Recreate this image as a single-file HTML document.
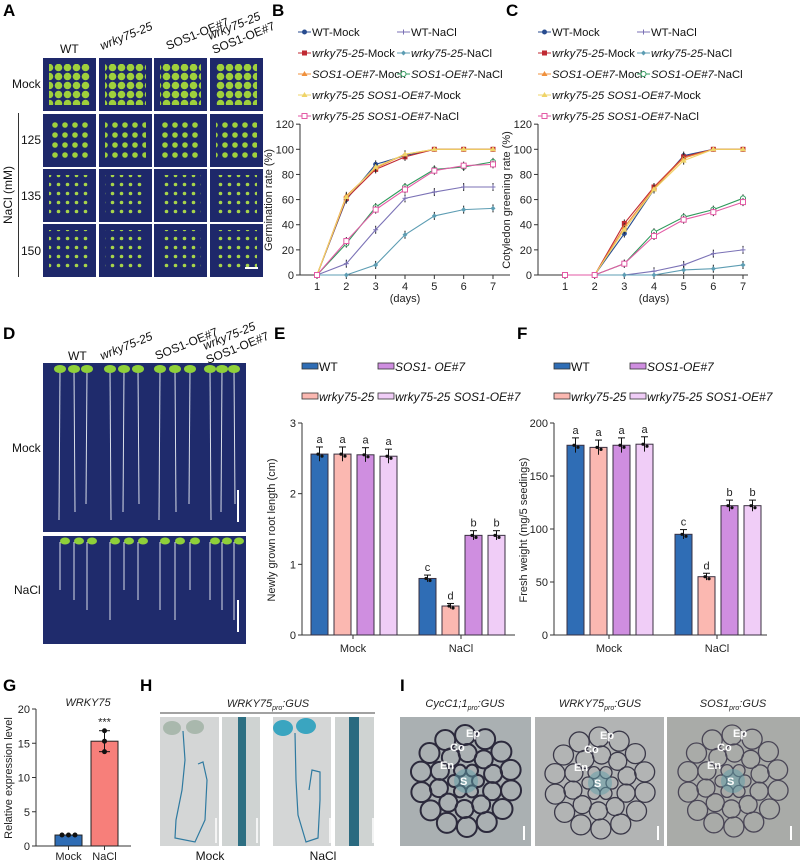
<!DOCTYPE html>
<html><head><meta charset="utf-8">
<style>
html,body{margin:0;padding:0;background:#fff;}
svg{display:block;font-family:"Liberation Sans",sans-serif;}
.pl{font-weight:bold;font-size:17px;}
.t{font-size:11px;fill:#222;}
.lg{font-size:12px;fill:#111;}
.lg2{font-size:11.3px;fill:#111;}
</style></head>
<body>
<svg id="fig" width="800" height="863" viewBox="0 0 800 863">
<defs>
<pattern id="pA1" width="9" height="9" patternUnits="userSpaceOnUse"><circle cx="4.5" cy="4.5" r="3.8" fill="#9fd03c"/></pattern>
<pattern id="pA2" width="10" height="10" patternUnits="userSpaceOnUse"><circle cx="5" cy="5" r="2.8" fill="#9fd03c"/></pattern>
<pattern id="pA3" width="9" height="9" patternUnits="userSpaceOnUse"><circle cx="4.5" cy="4.5" r="1.8" fill="#a7d54a"/></pattern>
</defs>
<text class="pl" x="3" y="16">A</text>
<text class="pl" x="272" y="16">B</text>
<text class="pl" x="506" y="16">C</text>
<text class="pl" x="3" y="339">D</text>
<text class="pl" x="274" y="339">E</text>
<text class="pl" x="517" y="339">F</text>
<text class="pl" x="3" y="691">G</text>
<text class="pl" x="140" y="691">H</text>
<text class="pl" x="400" y="691">I</text>

<g id="panelA">
<text class="lg" x="60" y="53">WT</text>
<text class="lg" x="102" y="50" transform="rotate(-22 102 50)" font-style="italic">wrky75-25</text>
<text class="lg" x="168" y="50" transform="rotate(-22 168 50)">SOS1-OE#7</text>
<text class="lg" x="210" y="40" transform="rotate(-22 210 40)" font-style="italic">wrky75-25</text>
<text class="lg" x="214" y="54" transform="rotate(-22 214 54)">SOS1-OE#7</text>
<text class="lg" x="12" y="88">Mock</text>
<text class="lg" x="21" y="144">125</text>
<text class="lg" x="21" y="200">135</text>
<text class="lg" x="21" y="255">150</text>
<text class="lg" x="12" y="195" transform="rotate(-90 12 195)" text-anchor="middle">NaCl (mM)</text>
<line x1="18.5" y1="113" x2="18.5" y2="277" stroke="#333"/>
</g>

<g id="panelD">
<text class="lg" x="68" y="360">WT</text>
<text class="lg" x="102" y="360" transform="rotate(-22 102 360)" font-style="italic">wrky75-25</text>
<text class="lg" x="157" y="360" transform="rotate(-22 157 360)">SOS1-OE#7</text>
<text class="lg" x="205" y="350" transform="rotate(-22 205 350)" font-style="italic">wrky75-25</text>
<text class="lg" x="208" y="364" transform="rotate(-22 208 364)">SOS1-OE#7</text>
<text class="lg" x="12" y="452">Mock</text>
<text class="lg" x="14" y="594">NaCl</text>
<rect x="43" y="363" width="203" height="169" fill="#1f2b6c"/>
<rect x="43" y="536" width="203" height="108" fill="#1f2b6c"/>
</g>

<g id="panelH">
<text class="t" x="268" y="707" text-anchor="middle" font-style="italic" font-size="12">WRKY75<tspan font-size="7" dy="3">pro</tspan><tspan dy="-3">:GUS</tspan></text>
<line x1="160" y1="713" x2="375" y2="713" stroke="#444"/>
<rect x="160" y="717" width="59" height="129" fill="#d4d6d6"/>
<rect x="222" y="717" width="38" height="129" fill="#cfd3d2"/>
<rect x="273" y="717" width="58" height="129" fill="#d4d6d6"/>
<rect x="335" y="717" width="39" height="129" fill="#cfd3d2"/>
<ellipse cx="172" cy="728" rx="9" ry="7" fill="#a9b8ad"/><ellipse cx="195" cy="727" rx="9" ry="7" fill="#a9b8ad"/>
<path d="M183 731 L185 760 L182 790 L176 820 L175 838 L195 842 L205 820 L207 780 L203 762 L198 764" fill="none" stroke="#2f7aa0" stroke-width="1.2"/>
<rect x="238" y="717" width="8" height="129" fill="#2d6f82"/>
<ellipse cx="283" cy="728" rx="10" ry="8" fill="#3aa5c0"/><ellipse cx="306" cy="726" rx="10" ry="8" fill="#3aa5c0"/>
<path d="M295 733 L296 780 L298 815 L306 842 L318 838 L320 800 L320 772 L312 770 L309 790" fill="none" stroke="#2f7aa0" stroke-width="1.2"/>
<rect x="349" y="717" width="10" height="129" fill="#2a6a80"/>
<line x1="216" y1="818" x2="216" y2="843" stroke="#fff" stroke-width="1.5"/><line x1="257" y1="818" x2="257" y2="843" stroke="#fff" stroke-width="1.5"/>
<line x1="330" y1="818" x2="330" y2="843" stroke="#fff" stroke-width="1.5"/><line x1="373" y1="818" x2="373" y2="843" stroke="#fff" stroke-width="1.5"/>
<text class="lg" x="210" y="860" text-anchor="middle">Mock</text>
<text class="lg" x="323" y="860" text-anchor="middle">NaCl</text>
</g>

<g id="panelI">
<text class="t" x="465" y="707" text-anchor="middle" font-style="italic" font-size="12">CycC1;1<tspan font-size="7" dy="3">pro</tspan><tspan dy="-3">:GUS</tspan></text>
<text class="t" x="600" y="707" text-anchor="middle" font-style="italic" font-size="12">WRKY75<tspan font-size="7" dy="3">pro</tspan><tspan dy="-3">:GUS</tspan></text>
<text class="t" x="733" y="707" text-anchor="middle" font-style="italic" font-size="12">SOS1<tspan font-size="7" dy="3">pro</tspan><tspan dy="-3">:GUS</tspan></text>
<rect x="400" y="717" width="131" height="129" fill="#aab0b2"/>
<rect x="535" y="717" width="129" height="129" fill="#b2b4b4"/>
<rect x="667" y="717" width="133" height="129" fill="#a9aba8"/>
</g>

<g id="panelG"></g>
<g id="chartB"></g>
<g id="chartC"></g>
<g id="chartE"></g>
<g id="chartF"></g>
</svg>
<script>
// ---------- data ----------
const days = [1,2,3,4,5,6,7];
const seriesNames = ["WT-Mock","WT-NaCl","wrky75-25-Mock","wrky75-25-NaCl","SOS1-OE#7-Mock","SOS1-OE#7-NaCl","wrky75-25 SOS1-OE#7-Mock","wrky75-25 SOS1-OE#7-NaCl"];
const germWTMock = [0,60,88,95,100,100,100];
const germWTNaCl = [0,9,36,61,66,70,70];
const germWrkyMock = [0,61,84,94,100,100,100];
const germWrkyNaCl = [0,0,8,32,47,52,53];
const germSosMock = [0,63,85,96,100,100,100];
const germSosNaCl = [0,25,54,70,84,86,90];
const germDblMock = [0,62,86,96,100,100,100];
const germDblNaCl = [0,27,52,68,83,87,88];
const greenWTMock = [0,0,33,68,95,100,100];
const greenWTNaCl = [0,0,0,3,8,17,20];
const greenWrkyMock = [0,0,41,70,94,100,100];
const greenWrkyNaCl = [0,0,0,0,4,5,8];
const greenSosMock = [0,0,38,69,93,100,100];
const greenSosNaCl = [0,0,9,34,46,52,61];
const greenDblMock = [0,0,36,68,91,100,100];
const greenDblNaCl = [0,0,9,31,44,50,58];
const lineTicks = [0,20,40,60,80,100,120];
const barGroups = ["Mock","NaCl"];
const genotypes = ["WT","wrky75-25","SOS1-OE#7","wrky75-25 SOS1-OE#7"];
const rootMock = [2.56,2.56,2.55,2.53];
const rootNaCl = [0.80,0.41,1.41,1.41];
const rootLetters = [["a","a","a","a"],["c","d","b","b"]];
const rootTicks = [0,1,2,3];
const fwMock = [179,177,179,180];
const fwNaCl = [95,55,122,122];
const fwLetters = [["a","a","a","a"],["c","d","b","b"]];
const fwTicks = [0,50,100,150,200];
const gCats = ["Mock","NaCl"];
const gVals = [1.6,15.3];
const gTicks = [0,5,10,15,20];

const NS="http://www.w3.org/2000/svg";
function el(parent,tag,attrs,text){const e=document.createElementNS(NS,tag);for(const k in attrs)e.setAttribute(k,attrs[k]);if(text!==undefined)e.textContent=text;parent.appendChild(e);return e;}

(function(){
  const g=document.getElementById('panelA');
  const cols=[43,99,154,210], rows=[58,114,169,224], pats=['pA1','pA2','pA3','pA3'];
  rows.forEach((y,ri)=>cols.forEach((x,ci)=>{
    const r=el(g,'rect',{x:x,y:y,width:53,height:53,fill:'#1e286a'});
    
    
    el(g,'rect',{x:x+6,y:y+6,width:41,height:41,fill:'url(#'+pats[ri]+')'});
  }));
  el(g,'line',{x1:245,y1:268,x2:258,y2:268,stroke:'#fff','stroke-width':2});
})();
(function(){
  const g=document.getElementById('panelD');
  const xs=[60,74,87,110,124,138,160,175,190,210,222,234];
  xs.forEach((x,i)=>{
    el(g,'line',{x1:x,y1:370,x2:x+(i%2?1:-1),y2:520-(i%3)*8,stroke:'#d8dde8','stroke-width':1});
    el(g,'ellipse',{cx:x,cy:369,rx:6,ry:4,fill:'#8fd03a'});
    el(g,'line',{x1:x,y1:542,x2:x,y2:590+(i%4)*10,stroke:'#d8dde8','stroke-width':1});
    el(g,'ellipse',{cx:x+5,cy:541,rx:5,ry:3.5,fill:'#8fd03a'});
  });
  el(g,'line',{x1:238,y1:490,x2:238,y2:522,stroke:'#fff','stroke-width':2});
  el(g,'line',{x1:238,y1:600,x2:238,y2:632,stroke:'#fff','stroke-width':2});
})();
(function(){
  const g=document.getElementById('panelI');
  [[466,781,'#2c2a3c'],[600,783,'#3a3848'],[733,781,'#4a4656']].forEach((c,k)=>{
    for(let ring=0;ring<3;ring++){
      const n=[6,10,14][ring], R=[12,28,46][ring], r=[6,9,10][ring];
      for(let i=0;i<n;i++){const a=i/n*Math.PI*2+ring;
        el(g,'circle',{cx:c[0]+R*Math.cos(a),cy:c[1]+R*Math.sin(a),r:r,fill:'none',stroke:c[2],'stroke-width':k==0?2:1.3});}
    }
    el(g,'circle',{cx:c[0],cy:c[1],r:12,fill:'#5f9ea8',opacity:0.5});
    [['S',-6,4],['En',-26,-12],['Co',-16,-30],['Ep',0,-44]].forEach(l=>el(g,'text',{x:c[0]+l[1],y:c[1]+l[2],fill:'#fff','font-size':11,'font-weight':'bold'},l[0]));
    el(g,'line',{x1:c[0]+58,y1:826,x2:c[0]+58,y2:840,stroke:'#fff','stroke-width':2});
  });
})();

const colors=["#284b8f","#7b72b6","#c02a33","#5d9db3","#f0903c","#2f9a5c","#efd468","#e35aa5"];
const markers=["circle","plus","square","diamond","tri","ocircle","tri","osquare"];
function lineChart(id,sets,x0,x1,xAxisX,yTitle,legX){
  const g=document.getElementById(id);
  const yS=v=>275-v*1.257;
  const xS=d=>x0+(d-1)*(x1-x0)/6;
  el(g,'line',{x1:xAxisX,y1:275,x2:xAxisX+210,y2:275,stroke:'#333'});
  el(g,'line',{x1:xAxisX,y1:124,x2:xAxisX,y2:275,stroke:'#333'});
  lineTicks.forEach(t=>{el(g,'line',{x1:xAxisX-4,y1:yS(t),x2:xAxisX,y2:yS(t),stroke:'#333'});
    const tx=el(g,'text',{class:'t',x:xAxisX-6,y:yS(t)+4,'text-anchor':'end'},t);
    
    });
  days.forEach(d=>{el(g,'line',{x1:xS(d),y1:275,x2:xS(d),y2:279,stroke:'#333'});
    const tx=el(g,'text',{class:'t',x:xS(d),y:290,'text-anchor':'middle'},d);
    
    });
  const xt=el(g,'text',{class:'t',x:(x0+x1)/2,y:302,'text-anchor':'middle','font-size':12},'(days)');
  
  
  const yt=el(g,'text',{class:'t','font-size':12,x:xAxisX-28,y:200,'text-anchor':'middle',transform:'rotate(-90 '+(xAxisX-28)+' 200)'},yTitle);
  
  
  sets.forEach((vals,si)=>{
    const pts=vals.map((v,i)=>xS(days[i])+','+yS(v)).join(' ');
    const pl=el(g,'polyline',{points:pts,fill:'none',stroke:colors[si],'stroke-width':1.1});
    
    
    vals.forEach((v,i)=>{
      if(v>0&&v<100){el(g,'line',{x1:xS(days[i]),y1:yS(v)-4,x2:xS(days[i]),y2:yS(v)+4,stroke:'#222','stroke-width':1});}
      drawMarker(g,markers[si],xS(days[i]),yS(v),colors[si]);
    });
  });
  const rows=[[0,1],[2,3],[4,5],[6],[7]];
  rows.forEach((r,ri)=>r.forEach((si,ci)=>{
    const lx=legX+ci*99, ly=32+ri*21;
    el(g,'line',{x1:lx,y1:ly,x2:lx+13,y2:ly,stroke:colors[si]});
    drawMarker(g,markers[si],lx+6.5,ly,colors[si]);
    const n=seriesNames[si];
    const t=el(g,'text',{class:'lg2',x:lx+14,y:ly+4});
    
    
    const idx=n.lastIndexOf('-');
    el(t,'tspan',{'font-style':si<2?'normal':'italic'},si<2?n:n.slice(0,idx));
    if(si>=2) el(t,'tspan',{},n.slice(idx));
  }));
}
function drawMarker(g,m,x,y,c){
  if(m==='circle')el(g,'circle',{cx:x,cy:y,r:2.5,fill:c});
  else if(m==='ocircle')el(g,'circle',{cx:x,cy:y,r:2.5,fill:'#fff',stroke:c});
  else if(m==='square')el(g,'rect',{x:x-2.5,y:y-2.5,width:5,height:5,fill:c});
  else if(m==='osquare')el(g,'rect',{x:x-2.5,y:y-2.5,width:5,height:5,fill:'#fff',stroke:c});
  else if(m==='tri')el(g,'path',{d:`M${x} ${y-3}L${x+3} ${y+2}L${x-3} ${y+2}Z`,fill:c});
  else if(m==='diamond')el(g,'path',{d:`M${x} ${y-2.5}L${x+2.5} ${y}L${x} ${y+2.5}L${x-2.5} ${y}Z`,fill:c});
  else {el(g,'line',{x1:x-2.5,y1:y,x2:x+2.5,y2:y,stroke:c});el(g,'line',{x1:x,y1:y-2.5,x2:x,y2:y+2.5,stroke:c});}
}
lineChart('chartB',[germWTMock,germWTNaCl,germWrkyMock,germWrkyNaCl,germSosMock,germSosNaCl,germDblMock,germDblNaCl],317,493,300,'Germination rate (%)',298);
lineChart('chartC',[greenWTMock,greenWTNaCl,greenWrkyMock,greenWrkyNaCl,greenSosMock,greenSosNaCl,greenDblMock,greenDblNaCl],565,743,538,'Cotyledon greening rate (%)',538);

const barColors=["#2f6db5","#fbb8b1","#cf8ee0","#f0cdf7"];
function barChart(id,mock,nacl,letters,ticks,maxV,axX,startX,yTitle,sosLabel){
  const g=document.getElementById(id);
  const y0=635,h=212;
  const yS=v=>y0-v/maxV*h;
  el(g,'line',{x1:axX,y1:y0,x2:axX+213,y2:y0,stroke:'#333'});
  el(g,'line',{x1:axX,y1:yS(maxV),x2:axX,y2:y0,stroke:'#333'});
  ticks.forEach(t=>{el(g,'line',{x1:axX-4,y1:yS(t),x2:axX,y2:yS(t),stroke:'#333'});
    const tx=el(g,'text',{class:'t',x:axX-6,y:yS(t)+4,'text-anchor':'end'},t);
    
    });
  [mock,nacl].forEach((vals,gi)=>{
    const gx=startX+gi*108;
    vals.forEach((v,i)=>{
      const x=gx+i*23;
      const b=el(g,'rect',{x:x,y:yS(v),width:17,height:y0-yS(v),fill:barColors[i],stroke:'#3a3040','stroke-width':1});
      
      
      const e=v*0.03+maxV*0.008;
      el(g,'line',{x1:x+8.5,y1:yS(v+e),x2:x+8.5,y2:yS(v-e),stroke:'#111'});
      el(g,'line',{x1:x+5,y1:yS(v+e),x2:x+12,y2:yS(v+e),stroke:'#111'});
      el(g,'circle',{cx:x+7,cy:yS(v),r:1.6,fill:'#111'});el(g,'circle',{cx:x+11,cy:yS(v)+2,r:1.6,fill:'#111'});
      const lt=el(g,'text',{class:'t','font-size':12,x:x+8.5,y:yS(v+e)-4,'text-anchor':'middle'},letters[gi][i]);
      
      
    });
    el(g,'line',{x1:gx+42,y1:y0,x2:gx+42,y2:y0+4,stroke:'#333'});
    const ct=el(g,'text',{class:'t','font-size':12,x:gx+42,y:y0+17,'text-anchor':'middle'},barGroups[gi]);
    
    
  });
  const yt=el(g,'text',{class:'t','font-size':12,x:axX-27,y:530,'text-anchor':'middle',transform:'rotate(-90 '+(axX-27)+' 530)'},yTitle);
  
  
  const leg=[[genotypes[0],0,0,false,0],[sosLabel,1,0,true,2],[genotypes[1],0,1,true,1],[genotypes[3],1,1,true,3]];
  leg.forEach(L=>{
    const lx=axX+L[1]*76, ly=367+L[2]*30;
    el(g,'rect',{x:lx,y:ly-4,width:16,height:6,fill:barColors[L[4]],stroke:'#333','stroke-width':0.8});
    const t=el(g,'text',{class:'lg',x:lx+17,y:ly+4,'font-style':L[3]?'italic':'normal'},L[0]);
    
    
  });
}
barChart('chartE',rootMock,rootNaCl,rootLetters,rootTicks,3,302,311,'Newly grown root length (cm)','SOS1- OE#7');
barChart('chartF',fwMock,fwNaCl,fwLetters,fwTicks,200,554,567,'Fresh weight (mg/5 seedings)','SOS1-OE#7');

(function(){
  const g=document.getElementById('panelG');
  const y0=846,yS=v=>y0-v/20*137,axX=36;
  el(g,'line',{x1:axX,y1:y0,x2:131,y2:y0,stroke:'#333'});
  el(g,'line',{x1:axX,y1:yS(20),x2:axX,y2:y0,stroke:'#333'});
  gTicks.forEach(t=>{el(g,'line',{x1:axX-4,y1:yS(t),x2:axX,y2:yS(t),stroke:'#333'});
    const tx=el(g,'text',{class:'t','font-size':12,x:axX-6,y:yS(t)+4,'text-anchor':'end'},t);
    
    });
  const gc=["#2f6db5","#f77f7a"];
  gVals.forEach((v,i)=>{
    const x=55+i*36;
    const b=el(g,'rect',{x:x,y:yS(v),width:27,height:y0-yS(v),fill:gc[i],stroke:'#222'});
    
    
    const e=v*0.1;
    if(i==1){el(g,'line',{x1:x+13.5,y1:yS(v+e),x2:x+13.5,y2:yS(v-e),stroke:'#111'});
      el(g,'line',{x1:x+8,y1:yS(v+e),x2:x+19,y2:yS(v+e),stroke:'#111'});
      el(g,'line',{x1:x+8,y1:yS(v-e),x2:x+19,y2:yS(v-e),stroke:'#111'});
      [v+e,v,v-e].forEach(p=>el(g,'circle',{cx:x+13.5,cy:yS(p),r:2.5,fill:'#111'}));
      el(g,'text',{class:'t',x:x+13.5,y:yS(v+e)-5,'text-anchor':'middle'},'***');}
    else [x+7,x+13.5,x+20].forEach(cx=>el(g,'circle',{cx:cx,cy:yS(v),r:2.5,fill:'#111'}));
    el(g,'line',{x1:x+13.5,y1:y0,x2:x+13.5,y2:y0+4,stroke:'#333'});
    const ct=el(g,'text',{class:'t','font-size':12,x:x+13.5,y:y0+14,'text-anchor':'middle'},gCats[i]);
    
    
  });
  const tt=el(g,'text',{class:'t','font-size':12,x:88,y:706,'text-anchor':'middle','font-style':'italic'},'WRKY75');
  
  
  const yt=el(g,'text',{class:'t','font-size':12,x:12,y:778,'text-anchor':'middle',transform:'rotate(-90 12 778)'},'Relative expression level');
  
  
})();
</script>
</body></html>
